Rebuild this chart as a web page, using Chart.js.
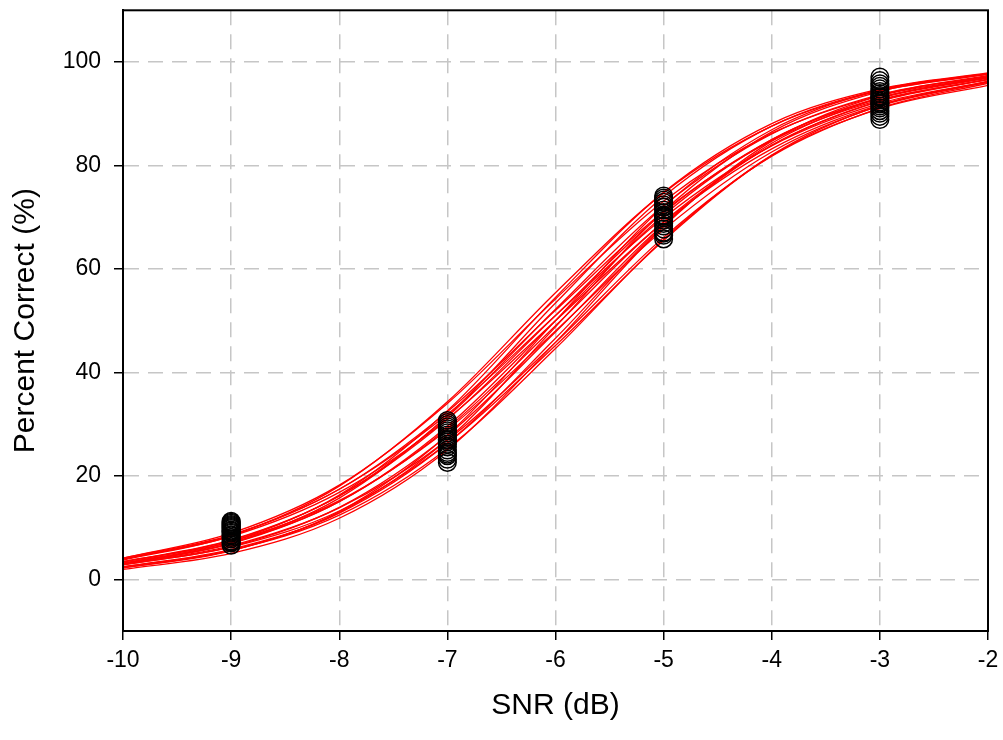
<!DOCTYPE html>
<html>
<head>
<meta charset="utf-8">
<script src="https://cdn.jsdelivr.net/npm/chart.js@4.4.1/dist/chart.umd.min.js"></script>
<style>
  html, body { margin: 0; padding: 0; background: #fff; }
</style>
</head>
<body>
<canvas id="fitChart" width="1003" height="740"></canvas>
<script>
// axis ticks
const xTicks = [-10, -9, -8, -7, -6, -5, -4, -3, -2];
const yTicks = [0, 20, 40, 60, 80, 100];

// measured scores (percent correct) per SNR level
const snrLevels = [-9, -7, -5, -3];
const scoresM9 = [6.6, 7.0, 7.2, 7.4, 7.8, 8.1, 8.4, 8.6, 8.9, 9.1, 9.3, 9.5, 9.8, 10.0, 10.2, 10.4, 10.6, 10.8, 11.0, 11.2];
const scoresM7 = [22.6, 23.2, 23.9, 24.2, 24.5, 25.0, 25.6, 26.1, 26.6, 26.9, 27.0, 27.5, 27.9, 28.3, 28.7, 29.1, 29.5, 29.9, 30.3, 30.7];
const scoresM5 = [65.8, 66.5, 66.9, 67.1, 67.7, 68.3, 68.8, 69.4, 69.9, 70.2, 70.4, 70.9, 71.4, 71.9, 72.0, 72.4, 72.9, 73.3, 73.7, 74.1];
const scoresM3 = [88.9, 89.5, 90.1, 90.6, 91.1, 91.5, 91.9, 92.0, 92.3, 92.7, 93.1, 93.3, 93.5, 93.9, 94.3, 94.8, 95.3, 95.8, 96.4, 97.1];

// fitted psychometric curves, read at SNR = -10 .. -2 dB
const curveX = [-10, -9, -8, -7, -6, -5, -4, -3, -2];
const fitCurves = [
  [3.0, 6.9, 15.0, 29.6, 50.0, 70.4, 85.0, 93.1, 97.0],
  [3.3, 7.5, 16.1, 31.4, 52.2, 72.2, 86.1, 93.7, 97.2],
  [2.8, 6.3, 13.9, 27.8, 47.8, 68.6, 83.9, 92.5, 96.7],
  [4.1, 8.9, 18.2, 34.0, 54.2, 73.1, 86.2, 93.5, 97.1],
  [2.9, 6.5, 13.8, 26.9, 45.8, 66.1, 81.8, 91.1, 95.9],
  [3.9, 8.3, 16.8, 31.0, 50.0, 69.0, 83.2, 91.7, 96.1],
  [2.9, 7.0, 15.7, 31.6, 53.4, 74.0, 87.6, 94.6, 97.7],
  [2.4, 5.8, 12.8, 26.3, 46.6, 68.4, 84.3, 93.0, 97.1],
  [4.1, 8.6, 17.4, 31.9, 51.0, 69.9, 83.8, 92.0, 96.2],
  [2.2, 5.6, 12.9, 27.0, 48.8, 71.2, 86.5, 94.3, 97.7],
  [3.7, 8.4, 18.0, 34.3, 55.4, 74.7, 87.6, 94.4, 97.6],
  [2.4, 5.6, 12.4, 25.3, 44.6, 65.7, 82.0, 91.6, 96.3],
  [3.9, 8.5, 17.4, 32.4, 52.0, 71.1, 84.8, 92.7, 96.6],
  [3.4, 7.3, 15.2, 28.9, 48.0, 67.6, 82.6, 91.5, 96.1],
  [3.1, 7.3, 16.3, 32.6, 54.5, 74.8, 88.1, 94.8, 97.9],
  [1.9, 5.0, 11.8, 25.0, 45.8, 68.2, 84.7, 93.5, 97.4],
  [2.2, 5.5, 13.1, 27.9, 50.0, 72.1, 86.9, 94.6, 97.8],
  [3.4, 7.6, 16.1, 30.9, 51.0, 70.9, 85.0, 93.0, 96.9],
  [3.1, 7.0, 15.0, 29.2, 49.0, 69.1, 83.9, 92.4, 96.6],
  [2.8, 6.2, 13.2, 26.3, 45.2, 65.5, 81.9, 91.0, 95.5]
];

const FONT = '"Liberation Sans", Arial, sans-serif';

(function(){
  const scoreSets = [scoresM9, scoresM7, scoresM5, scoresM3];
  const points = [];
  scoreSets.forEach((set, i) => {
    set.forEach(v => points.push({ x: snrLevels[i], y: v }));
  });

  const datasets = [{
    type: 'scatter',
    data: points,
    order: 0,
    pointStyle: 'circle',
    pointRadius: 8.8,
    pointBorderWidth: 1.5,
    pointBorderColor: '#000',
    pointBackgroundColor: 'rgba(0,0,0,0)',
    pointHoverRadius: 8.8
  }];

  fitCurves.forEach(curve => {
    datasets.push({
      type: 'line',
      data: curve.map((v, i) => ({ x: curveX[i], y: v })),
      order: 1,
      borderColor: '#ff0000',
      borderWidth: 1.3,
      pointRadius: 0,
      fill: false,
      cubicInterpolationMode: 'monotone'
    });
  });

  // closes the plot box on top and right
  const frame = {
    id: 'frame',
    afterDraw(chart){
      const { ctx, chartArea: a } = chart;
      ctx.save();
      ctx.strokeStyle = '#000';
      ctx.lineWidth = 2;
      ctx.strokeRect(a.left, a.top, a.right - a.left, a.bottom - a.top);
      ctx.restore();
    }
  };

  new Chart(document.getElementById('fitChart').getContext('2d'), {
    type: 'scatter',
    data: { datasets },
    plugins: [frame],
    options: {
      responsive: false,
      animation: false,
      layout: { padding: { top: 8, right: 15, bottom: 0, left: 0 } },
      plugins: { legend: { display: false }, tooltip: { enabled: false } },
      scales: {
        x: {
          type: 'linear',
          min: -10, max: -2,
          afterBuildTicks: s => { s.ticks = xTicks.map(v => ({ value: v })); },
          afterFit: s => { s.height = 109; s.paddingLeft = 0; s.paddingRight = 0; },
          grid: {
            color: '#c6c6c6', lineWidth: 1.5,
            tickColor: '#000', tickWidth: 1.5, tickLength: 9
          },
          border: { display: true, color: '#000', width: 2, dash: [15, 9] },
          ticks: { color: '#000', font: { family: FONT, size: 23 }, padding: 7, maxRotation: 0 },
          title: {
            display: true, text: 'SNR (dB)', color: '#000',
            font: { family: FONT, size: 30 }, padding: { top: 0, bottom: 16 }
          }
        },
        y: {
          type: 'linear',
          min: -10, max: 110,
          afterBuildTicks: s => { s.ticks = yTicks.map(v => ({ value: v })); },
          afterFit: s => { s.width = 123; s.paddingTop = 0; s.paddingBottom = 0; },
          grid: {
            color: '#c6c6c6', lineWidth: 1.5,
            tickColor: '#000', tickWidth: 1.5, tickLength: 9
          },
          border: { display: true, color: '#000', width: 2, dash: [15, 9] },
          ticks: { color: '#000', font: { family: FONT, size: 23 }, padding: 13 },
          title: {
            display: true, text: 'Percent Correct (%)', color: '#000',
            font: { family: FONT, size: 30 }, padding: { top: 8, bottom: 0 }
          }
        }
      }
    }
  });
})();
</script>
</body>
</html>
